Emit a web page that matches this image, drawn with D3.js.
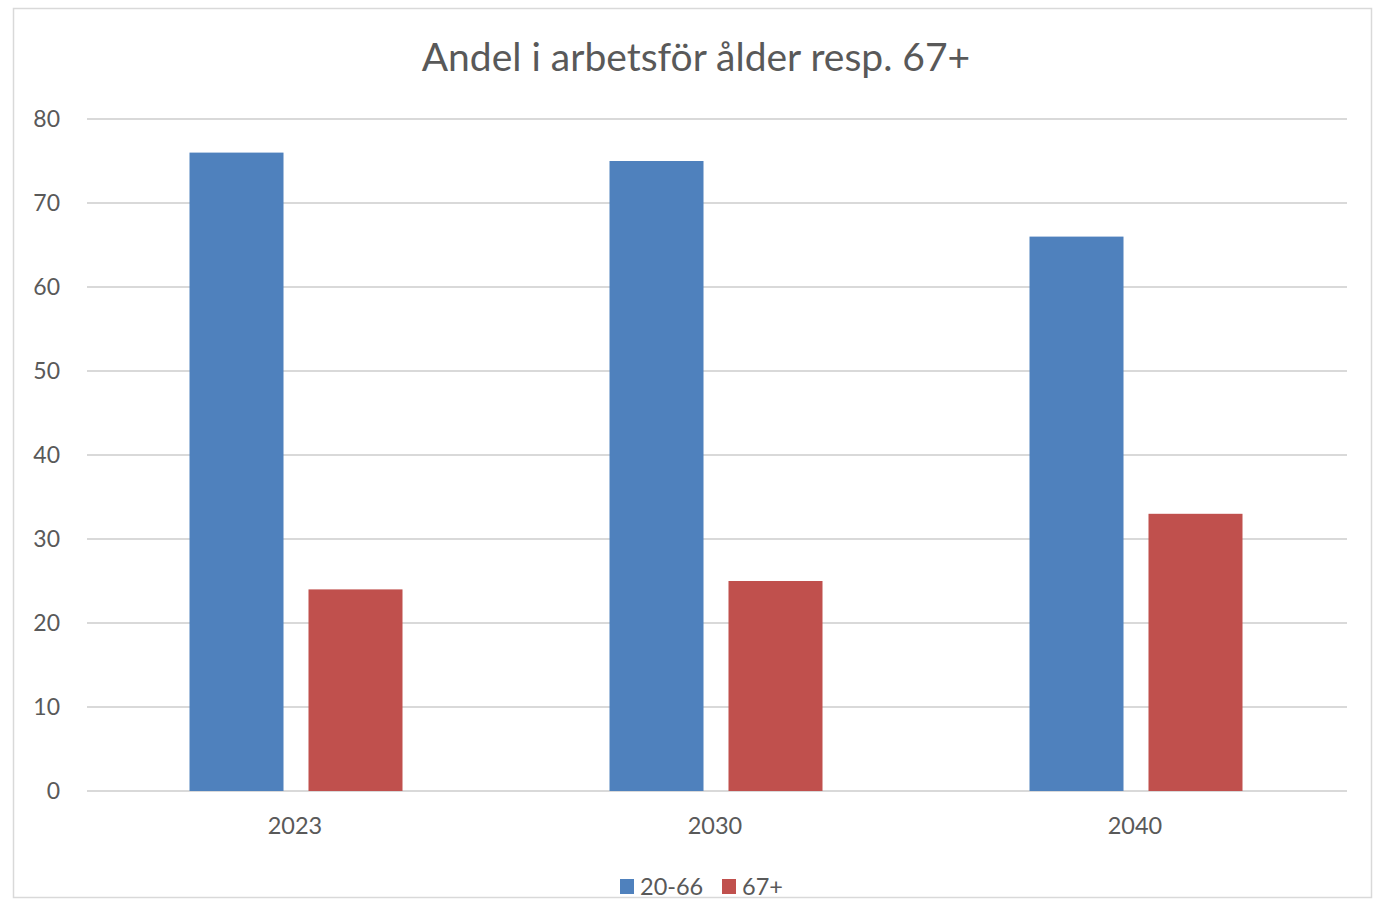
<!DOCTYPE html>
<html>
<head>
<meta charset="utf-8">
<script src="https://cdn.jsdelivr.net/npm/d3@7"></script>
<style>
  body { margin: 0; background: #fff; }
  text { font-family: Lato, "Open Sans", sans-serif; fill: #595959; }
</style>
</head>
<body>
<svg id="chart" width="1373" height="900"></svg>
<script>
// Data
var years = ["2023", "2030", "2040"];
var seriesNames = ["20-66", "67+"];
var workingAge = [76, 75, 66];
var elderly = [24, 25, 33];
var yTicks = [0, 10, 20, 30, 40, 50, 60, 70, 80];
var colors = ["#4f81bd", "#c0504d"];

var W = 1373, H = 900;
var margin = {left: 87, right: 26, top: 119, bottom: 109};
var plotW = W - margin.left - margin.right,
    plotH = H - margin.top - margin.bottom;

var svg = d3.select("#chart");

// chart frame
svg.append("rect")
   .attr("x", 13.5).attr("y", 8.5)
   .attr("width", 1358).attr("height", 889)
   .attr("fill", "#fff")
   .attr("stroke", "#d9d9d9")
   .attr("stroke-width", 1.5);

var x = d3.scaleBand().domain(years).range([margin.left, margin.left + plotW]).paddingInner(0).paddingOuter(0);
var inner = d3.scaleBand().domain(seriesNames).range([102.5, x.bandwidth() - 104.5]).paddingInner(0.21);
var y = d3.scaleLinear().domain([0, 80]).range([margin.top + plotH, margin.top]);

// gridlines
svg.append("g").selectAll("line")
   .data(yTicks).enter()
   .append("line")
   .attr("x1", margin.left).attr("x2", margin.left + plotW)
   .attr("y1", d => y(d)).attr("y2", d => y(d))
   .attr("stroke", "#d9d9d9")
   .attr("stroke-width", 2);

// y labels
svg.append("g").selectAll("text")
   .data(yTicks).enter()
   .append("text")
   .attr("x", 60)
   .attr("y", d => y(d))
   .attr("dy", "0.35em")
   .attr("text-anchor", "end")
   .style("font-size", "23px")
   .text(d => d);

// bars
var rows = years.map(function(yr, i) {
	return {year: yr, vals: [{s: seriesNames[0], v: workingAge[i]}, {s: seriesNames[1], v: elderly[i]}]};
});

var groups = svg.append("g").selectAll("g")
   .data(rows).enter()
   .append("g")
   .attr("transform", d => "translate(" + x(d.year) + ",0)");

groups.selectAll("rect")
   .data(d => d.vals).enter()
   .append("rect")
   .attr("x", d => inner(d.s))
   .attr("width", inner.bandwidth())
   .attr("y", d => y(d.v))
   .attr("height", d => y(0) - y(d.v))
   .attr("fill", (d, i) => colors[i]);

// x labels
svg.append("g").selectAll("text")
   .data(years).enter()
   .append("text")
   .attr("x", d => x(d) + x.bandwidth() / 2 - 2)
   .attr("y", 834)
   .attr("text-anchor", "middle")
   .style("font-size", "23.5px")
   .text(d => d);

// title
svg.append("text")
   .attr("x", 696)
   .attr("y", 71)
   .attr("text-anchor", "middle")
   .style("font-size", "39px")
   .text("Andel i arbetsför ålder resp. 67+");

// legend
var legend = svg.append("g");
var legX = [620, 722];
seriesNames.forEach(function(name, i) {
	legend.append("rect")
	   .attr("x", legX[i]).attr("y", 879)
	   .attr("width", 14).attr("height", 15)
	   .attr("fill", colors[i]);
	legend.append("text")
	   .attr("x", legX[i] + 20).attr("y", 895)
	   .style("font-size", "23.5px")
	   .text(name);
});
</script>
</body>
</html>
